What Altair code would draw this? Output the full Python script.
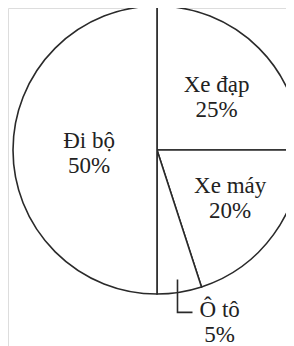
import math
import altair as alt
import pandas as pd

categories = ["Xe đạp", "Xe máy", "Ô tô", "Đi bộ"]
values = [25, 20, 5, 50]

df = pd.DataFrame({"cat": categories, "value": values})
df["idx"] = range(len(df))
total = sum(values)
cum = df["value"].cumsum() - df["value"]
df["mid"] = cum + df["value"] / 2
df["label"] = [f"{c}\n{v}%" for c, v in zip(categories, values)]

CX, CY, R = 149, 142, 144
STROKE = "#2a2a2a"
FONT = "'Liberation Serif', 'Times New Roman', serif"

base = alt.Chart(df)

pie = base.mark_arc(radius=R, fill="white", stroke=STROKE, strokeWidth=1.6).encode(
    theta=alt.Theta("value:Q", stack=True),
    order=alt.Order("idx:Q"),
    x=alt.value(CX),
    y=alt.value(CY),
)


def label_layer(cat, radius, dx, dy, lh=25):
    return (
        base.transform_filter(alt.datum.cat == cat)
        .mark_text(
            radius=radius, dx=dx, dy=dy, font=FONT, fontSize=23, lineHeight=lh,
            lineBreak="\n", color="#222", align="center", baseline="middle",
        )
        .encode(
            theta=alt.Theta("mid:Q", stack=False),
            text="label:N",
            x=alt.value(CX),
            y=alt.value(CY),
        )
    )


labels = [
    label_layer("Xe đạp", 80, 3, -8),
    label_layer("Xe máy", 88, 2, -16),
    label_layer("Đi bộ", 68, 0, -9),
    label_layer("Ô tô", 132, 42, 30, lh=25),
]

# leader line for the small slice
small = df[df["cat"] == "Ô tô"].iloc[0]
ang = small["mid"] / total * 2 * math.pi
x0 = CX + 131 * math.sin(ang)
y0 = CY - 131 * math.cos(ang)
leader_df = pd.DataFrame({
    "px": [x0, x0, x0 + 15],
    "py": [y0, y0 + 33, y0 + 33],
    "o": [0, 1, 2],
})
leader = alt.Chart(leader_df).mark_line(color=STROKE, strokeWidth=1.6).encode(
    x=alt.X("px:Q", scale=None, axis=None),
    y=alt.Y("py:Q", scale=None, axis=None),
    order="o:Q",
)

chart = (
    alt.layer(pie, leader, *labels)
    .properties(width=278, height=338, padding=0, autosize=alt.AutoSizeParams(type="none"))
    .configure_view(stroke=None)
    .configure(background="white")
)

chart.save("out.html", embed_options={"renderer": "svg", "actions": False})
